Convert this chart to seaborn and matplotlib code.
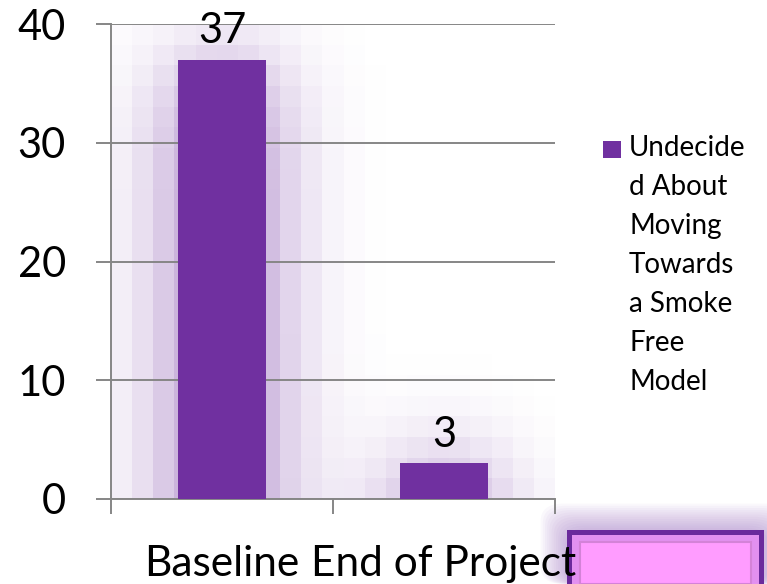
import numpy as np
import pandas as pd
import matplotlib
matplotlib.use("Agg")
import matplotlib.pyplot as plt
import seaborn as sns
from matplotlib.patches import Rectangle, FancyBboxPatch

# ---- data ----
categories = ["Baseline", "End of Project"]
values = [37, 3]
series_name = "Undecided About Moving Towards a Smoke Free Model"
legend_label = "Undecide\nd About\nMoving\nTowards\na Smoke\nFree\nModel"
y_ticks = [0, 10, 20, 30, 40]

sns.set_theme(style="white")
plt.rcParams['font.family'] = ['Lato', 'DejaVu Sans']
plt.rcParams['text.color'] = 'black'
plt.rcParams['xtick.labelcolor'] = 'black'
plt.rcParams['ytick.labelcolor'] = 'black'

W, H = 767, 584
fig = plt.figure(figsize=(W / 100, H / 100), dpi=100)
fig.patch.set_facecolor("white")
ax = fig.add_axes([111 / W, 1 - 499 / H, 444 / W, 475 / H])

purple = "#7030A0"
gray = "#868686"
bar_w = 0.4

df = pd.DataFrame({"category": categories, "value": values, "series": series_name})
sns.barplot(data=df, x="category", y="value", hue="series", palette=[purple],
            width=bar_w, saturation=1, ax=ax, zorder=3, legend=False,
            edgecolor="none", linewidth=0)

ax.set_xlim(-0.5, len(categories) - 0.5)
ax.set_ylim(0, 40)

# ---- soft pixelated glow derived from the bars ----
ncols, nrows = 21, 23
xe = np.linspace(-0.5, len(categories) - 0.5, ncols + 1)
ye = np.linspace(0, 40, nrows + 1)
cov = np.zeros((nrows, ncols))
for i, v in enumerate(values):
    b0, b1 = i - bar_w / 2, i + bar_w / 2
    ox = np.clip(np.minimum(xe[1:], b1) - np.maximum(xe[:-1], b0), 0, None) / np.diff(xe)
    oy = np.clip(np.minimum(ye[1:], v) - np.maximum(ye[:-1], 0), 0, None) / np.diff(ye)
    cov += np.outer(oy, ox)


def blur1d(a, s, axis, mode):
    r = int(3 * s) + 1
    k = np.exp(-0.5 * (np.arange(-r, r + 1) / s) ** 2)
    k /= k.sum()
    pw = [(0, 0), (0, 0)]
    pw[axis] = (r, r)
    p = np.pad(a, pw, mode=mode)
    return np.apply_along_axis(lambda m: np.convolve(m, k, mode="valid"), axis, p)


g = blur1d(cov, 2.4, 1, "constant")
g = blur1d(g, 2.4, 0, "edge")
alpha = np.clip(0.8 * g ** 1.15, 0, 0.45)
rgba = np.zeros((nrows, ncols, 4))
rgba[..., 0] = 112 / 255
rgba[..., 1] = 48 / 255
rgba[..., 2] = 160 / 255
rgba[..., 3] = alpha
ax.imshow(rgba, extent=(xe[0], xe[-1], 0, 40), origin="lower", aspect="auto",
          interpolation="nearest", zorder=0.1)

# ---- axes styling ----
ax.set_axisbelow(True)
ax.yaxis.grid(True, color=gray, lw=1.4)
ax.xaxis.grid(False)
for s in ["top", "right"]:
    ax.spines[s].set_visible(False)
for s in ["left", "bottom"]:
    ax.spines[s].set_color(gray)
    ax.spines[s].set_linewidth(1.4)

ax.set_yticks(y_ticks)
ax.set_yticklabels([str(t) for t in y_ticks])
ax.tick_params(axis="y", direction="out", length=10.5, width=1.4, color=gray,
               labelsize=30, pad=22, left=True, labelcolor="black")

ax.set_xticks([-0.5, 0.5, 1.5])
ax.set_xticklabels(["", "", ""])
ax.set_xticks(range(len(categories)), minor=True)
ax.set_xticklabels(categories, minor=True)
ax.tick_params(axis="x", which="major", direction="out", length=11, width=1.4,
               color=gray, bottom=True)
ax.tick_params(axis="x", which="minor", length=0, labelsize=30.5, pad=33,
               labelcolor="black")
ax.set_xlabel("")
ax.set_ylabel("")

for c in ax.containers:
    ax.bar_label(c, labels=[str(v) for v in values], fontsize=30, padding=7,
                 color="black")

# ---- legend (square marker + wrapped label) ----
fig.add_artist(Rectangle((603 / W, 1 - 158 / H), 18 / W, 17 / H,
                         transform=fig.transFigure, facecolor=purple,
                         edgecolor="none"))
fig.text(629 / W, 1 - 135 / H, legend_label, ha="left", va="top",
         fontsize=20, linespacing=1.62, color="black")

# ---- decorative pink box (bottom right), drawn beneath the axes texts ----
for k in range(12, 0, -1):
    fig.add_artist(FancyBboxPatch(((567 - 2.2 * k) / W, 0), (200 + 4 * k) / W, (54 + 2.2 * k) / H,
                                  boxstyle="round,pad=0,rounding_size=0.03",
                                  transform=fig.transFigure, facecolor="#8A55B8",
                                  edgecolor="none", alpha=0.04, zorder=-3))
fig.add_artist(Rectangle((567 / W, 0), 197 / W, 54 / H, transform=fig.transFigure,
                         facecolor="#6A2A9C", edgecolor="none", zorder=-2))
fig.add_artist(Rectangle((572 / W, 0), 187 / W, 49 / H, transform=fig.transFigure,
                         facecolor="#E290F0", edgecolor="none", zorder=-2))
fig.add_artist(Rectangle((580 / W, 0), 171 / W, 42 / H, transform=fig.transFigure,
                         facecolor="#FF9CFF", edgecolor="#D482D8", lw=1.5, zorder=-1))

fig.savefig("out.png", dpi=100)
